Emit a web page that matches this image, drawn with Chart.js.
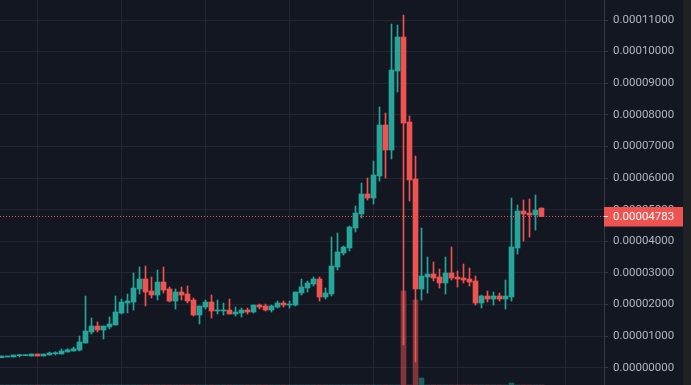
<!DOCTYPE html>
<html><head><meta charset="utf-8">
<script src="https://cdn.jsdelivr.net/npm/chart.js@4.4.1/dist/chart.umd.min.js"></script>
<style>html,body{margin:0;padding:0;background:#131722;overflow:hidden}</style>
</head><body><canvas id="c" width="691" height="385" style="display:block;width:691px;height:385px"></canvas>
<script>
// ---- data (weekly candles) ----
const weeks = [0,1,2,3,4,5,6,7,8,9,10,11,12,13,14,15,16,17,18,19,20,21,22,23,24,25,26,27,28,29,30,31,32,33,34,35,36,37,38,39,40,41,42,43,44,45,46,47,48,49,50,51,52,53,54,55,56,57,58,59,60,61,62,63,64,65,66,67,68,69,70,71,72,73,74,75,76,77,78,79,80,81,82,83,84,85,86,87,88,89,90];
const open = [0.00000316,0.00000339,0.00000339,0.00000380,0.00000380,0.00000370,0.00000433,0.00000370,0.00000402,0.00000443,
0.00000433,0.00000497,0.00000528,0.00000560,0.00000781,0.00001129,0.00001319,0.00001193,0.00001288,0.00001351,
0.00001730,0.00002047,0.00002078,0.00002490,0.00002806,0.00002426,0.00002300,0.00002711,0.00002490,0.00002110,
0.00002395,0.00002332,0.00002142,0.00001667,0.00001920,0.00002078,0.00001794,0.00001794,0.00001825,0.00001699,
0.00001730,0.00001825,0.00001762,0.00001983,0.00001952,0.00001825,0.00001920,0.00002047,0.00001983,0.00001983,
0.00002363,0.00002521,0.00002648,0.00002806,0.00002237,0.00002332,0.00003186,0.00003629,0.00003787,0.00004419,
0.00004863,0.00005495,0.00005369,0.00006065,0.00007678,0.00006887,0.00009386,0.00010462,0.00007773,0.00005970,
0.00002490,0.00002869,0.00002964,0.00002869,0.00002680,0.00002996,0.00002869,0.00002838,0.00002806,0.00002743,
0.00002047,0.00002268,0.00002173,0.00002268,0.00002173,0.00002237,0.00003787,0.00004957,0.00004894,0.00004831,
0.00005052];
const high = [0.00000370,0.00000370,0.00000402,0.00000424,0.00000402,0.00000433,0.00000433,0.00000433,0.00000497,0.00000506,
0.00000592,0.00000601,0.00000655,0.00001003,0.00002268,0.00001572,0.00001446,0.00001319,0.00001604,0.00002268,
0.00002173,0.00002332,0.00002996,0.00003186,0.00003217,0.00002869,0.00003091,0.00003186,0.00002553,0.00002490,
0.00002553,0.00002585,0.00002205,0.00001952,0.00002142,0.00002300,0.00002142,0.00002047,0.00002173,0.00001920,
0.00001888,0.00001888,0.00001983,0.00002015,0.00002015,0.00001983,0.00002110,0.00002110,0.00002110,0.00002395,
0.00002806,0.00002743,0.00002869,0.00002869,0.00002521,0.00004135,0.00004261,0.00003850,0.00004483,0.00005115,
0.00005843,0.00006001,0.00006539,0.00008247,0.00008057,0.00010873,0.00010841,0.00011158,0.00007963,0.00006697,
0.00004419,0.00003502,0.00003344,0.00003122,0.00003502,0.00003819,0.00003059,0.00003281,0.00003154,0.00002901,
0.00002300,0.00002426,0.00002395,0.00002363,0.00002775,0.00005369,0.00005147,0.00005305,0.00005337,0.00005464,
0.00005052];
const low = [0.00000316,0.00000339,0.00000339,0.00000339,0.00000380,0.00000370,0.00000370,0.00000370,0.00000402,0.00000402,
0.00000433,0.00000497,0.00000528,0.00000528,0.00000781,0.00001066,0.00001129,0.00000908,0.00001224,0.00001351,
0.00001699,0.00001730,0.00001825,0.00002332,0.00001952,0.00002205,0.00002142,0.00002363,0.00002078,0.00001857,
0.00002142,0.00002047,0.00001635,0.00001383,0.00001857,0.00001572,0.00001699,0.00001667,0.00001699,0.00001635,
0.00001604,0.00001699,0.00001730,0.00001857,0.00001794,0.00001762,0.00001888,0.00001920,0.00001888,0.00001952,
0.00002300,0.00002395,0.00002585,0.00002110,0.00002173,0.00002268,0.00003091,0.00003566,0.00003692,0.00004293,
0.00004736,0.00005305,0.00005179,0.00005906,0.00006001,0.00006602,0.00008721,0.00000718,0.00005273,0.00000180,
0.00002142,0.00002363,0.00002743,0.00002521,0.00002332,0.00002775,0.00002553,0.00002680,0.00002585,0.00001983,
0.00001888,0.00002078,0.00001983,0.00002110,0.00001857,0.00002110,0.00003597,0.00004008,0.00004134,0.00004356,
0.00004783];
const close = [0.00000370,0.00000370,0.00000402,0.00000402,0.00000402,0.00000433,0.00000370,0.00000433,0.00000465,0.00000475,
0.00000528,0.00000569,0.00000601,0.00000813,0.00001161,0.00001319,0.00001193,0.00001319,0.00001383,0.00001762,
0.00002078,0.00002110,0.00002521,0.00002806,0.00002395,0.00002300,0.00002711,0.00002458,0.00002110,0.00002395,
0.00002300,0.00002110,0.00001667,0.00001952,0.00002078,0.00001794,0.00001825,0.00001825,0.00001699,0.00001762,
0.00001825,0.00001762,0.00001983,0.00001920,0.00001825,0.00001952,0.00002047,0.00001983,0.00002015,0.00002395,
0.00002553,0.00002680,0.00002806,0.00002237,0.00002363,0.00003217,0.00003661,0.00003819,0.00004451,0.00004894,
0.00005495,0.00005369,0.00006096,0.00007678,0.00006887,0.00009418,0.00010462,0.00007741,0.00005938,0.00002490,
0.00002901,0.00002964,0.00002838,0.00002680,0.00002996,0.00002838,0.00002806,0.00002775,0.00002711,0.00002047,
0.00002268,0.00002173,0.00002268,0.00002173,0.00002268,0.00003819,0.00004957,0.00004863,0.00004831,0.00004989,
0.00004783];
const volume = [0,0,0,0,0,0,0,0,0,0, 0,0,0,0,0,0,0,0,0,0, 0,0,0,0,0,0,0,0,0,0, 0,0,0,0,0,0,0,0,0,0,
0,0,0,0,0,0,0,0,0,0, 0,0,0,0,0,0,0,0,0,0, 0,0,0,0,0,0,0,94,0,85, 7,0,0,0,0,0,0,0,0,0,
0,0,0,0,0,2,0,0,0,0, 0];
const priceTicks = [0,0.00001,0.00002,0.00003,0.00004,0.00005,0.00006,0.00007,0.00008,0.00009,0.00010,0.00011];
const gridWeeks = [6,20,34,48,62,76,94];
const lastPrice = 0.00004783;

// ---- styling ----
const UP = '#26a69a', DOWN = '#ef5350';
const UPVOL = 'rgba(38,166,154,0.5)', DOWNVOL = 'rgba(239,83,80,0.5)';
const BG = '#131722', GRID = '#232632', AXIS = '#363a45', TXT = '#b2b5be';
const FONT = 'Roboto';

const col = weeks.map((w,i) => close[i] >= open[i] ? UP : DOWN);
const volCol = weeks.map((w,i) => close[i] >= open[i] ? UPVOL : DOWNVOL);

const bgPlugin = {
  id: 'bg',
  beforeDraw(chart) {
    const c = chart.ctx;
    c.save(); c.fillStyle = BG; c.fillRect(0,0,chart.width,chart.height); c.restore();
  },
  afterDraw(chart) {
    const c = chart.ctx, ys = chart.scales.y, a = chart.chartArea;
    const y = Math.floor(ys.getPixelForValue(lastPrice)) + 0.5;
    c.save();
    c.strokeStyle = DOWN; c.lineWidth = 1; c.setLineDash([1,2]);
    c.beginPath(); c.moveTo(a.left, y); c.lineTo(a.right, y); c.stroke();
    c.setLineDash([]);
    c.fillStyle = DOWN;
    c.fillRect(a.right, y - 9.5, 79, 19.5);
    c.strokeStyle = '#ffffff';
    c.beginPath(); c.moveTo(a.right, y); c.lineTo(a.right + 4, y); c.stroke();
    c.fillStyle = '#ffffff';
    c.font = '11.5px ' + FONT;
    c.textBaseline = 'middle'; c.textAlign = 'left';
    c.fillText(lastPrice.toFixed(8), a.right + 9, y + 0.5);
    c.fillStyle = '#202124';
    c.fillRect(683, 0, 8, chart.height);
    c.restore();
  }
};

new Chart(document.getElementById('c'), {
  type: 'bar',
  data: {
    datasets: [
      { label: 'body', order: 1, data: weeks.map((w,i)=>({x:w, y:[open[i], close[i]]})),
        backgroundColor: col, barThickness: 5, minBarLength: 1, yAxisID: 'y' },
      { label: 'wick', order: 2, data: weeks.map((w,i)=>({x:w, y:[low[i], high[i]]})),
        backgroundColor: col, barThickness: 1, minBarLength: 1, yAxisID: 'y' },
      { label: 'volume', order: 3, data: weeks.map((w,i)=>({x:w, y:volume[i]})),
        backgroundColor: volCol, barThickness: 5, yAxisID: 'vol' }
    ]
  },
  options: {
    responsive: false, animation: false, devicePixelRatio: 1,
    layout: { padding: 0 },
    datasets: { bar: { grouped: false, borderWidth: 0 } },
    plugins: { legend: { display: false }, tooltip: { enabled: false } },
    scales: {
      x: {
        type: 'linear', min: -0.25, max: 100.4167, offset: false,
        afterBuildTicks: s => { s.ticks = gridWeeks.map(v => ({ value: v })); },
        ticks: { display: false },
        grid: { color: GRID, drawTicks: false, offset: false },
        border: { display: false }
      },
      y: {
        position: 'right', min: -0.00000547, max: 0.00011633,
        afterBuildTicks: s => { s.ticks = priceTicks.map(v => ({ value: v })); },
        afterFit: s => { s.width = 87; s.paddingTop = 0; s.paddingBottom = 0; },
        grid: { color: GRID, tickColor: AXIS, tickLength: 4 },
        border: { color: AXIS },
        ticks: { color: TXT, padding: 5, font: { family: FONT, size: 11.5 },
                 callback: v => Number(v).toFixed(8) }
      },
      vol: { display: false, min: 0, max: 385 }
    }
  },
  plugins: [bgPlugin]
});
</script></body></html>
